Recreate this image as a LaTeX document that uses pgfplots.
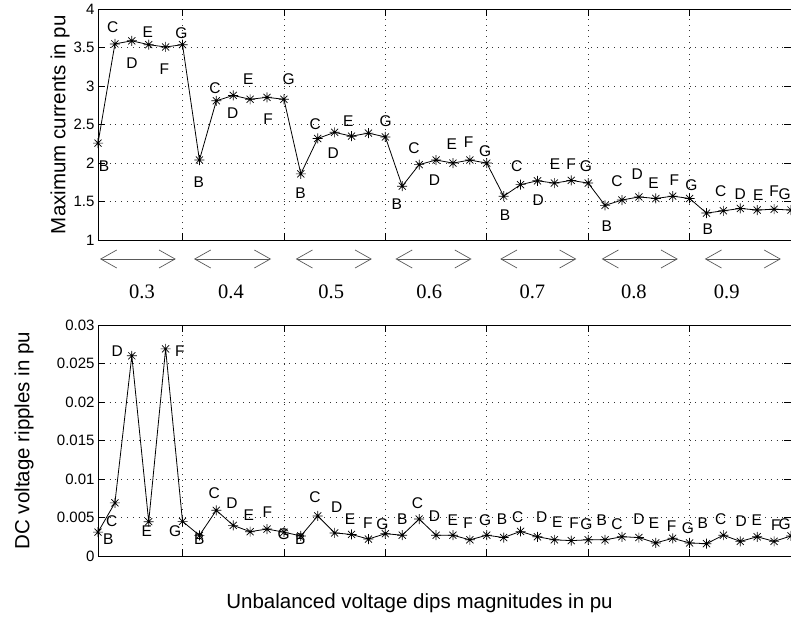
\documentclass[border=0pt]{standalone}
\usepackage{pgfplots}
\pgfplotsset{compat=1.18}
\usepackage{fontspec}
\setmainfont{Liberation Sans}
\newfontfamily\seriffont{Liberation Serif}
\usetikzlibrary{arrows.meta}

\pgfdeclareplotmark{mstar}{%
 \pgfpathmoveto{\pgfqpoint{-\pgfplotmarksize}{0pt}}\pgfpathlineto{\pgfqpoint{\pgfplotmarksize}{0pt}}%
 \pgfpathmoveto{\pgfqpoint{0pt}{-\pgfplotmarksize}}\pgfpathlineto{\pgfqpoint{0pt}{\pgfplotmarksize}}%
 \pgfpathmoveto{\pgfqpoint{-0.707\pgfplotmarksize}{-0.707\pgfplotmarksize}}\pgfpathlineto{\pgfqpoint{0.707\pgfplotmarksize}{0.707\pgfplotmarksize}}%
 \pgfpathmoveto{\pgfqpoint{-0.707\pgfplotmarksize}{0.707\pgfplotmarksize}}\pgfpathlineto{\pgfqpoint{0.707\pgfplotmarksize}{-0.707\pgfplotmarksize}}%
 \pgfusepathqstroke}

\newcommand{\lb}[3]{\node[font=\fontsize{15.5}{18}\selectfont, inner sep=0pt] at (axis cs:#1,#2) {#3};}
\newcommand{\grp}[4]{%
 \draw[black!65, line width=0.7pt, {Straight Barb[length=16pt,width=18pt]}-{Straight Barb[length=16pt,width=18pt]}] (axis cs:#1,0.753) -- (axis cs:#2,0.753);
 \node[font=\seriffont\fontsize{20.5}{24}\selectfont, inner sep=0pt] at (axis cs:#3,0.324) {#4};}

\pgfplotsset{mystyle/.style={
  scale only axis, width=693pt, xmin=1, xmax=42,
  xtick={6,12,18,24,30,36}, xticklabels={},
  grid=major, grid style={black!80, line width=0.7pt, dash pattern=on 0.8pt off 5pt},
  tick align=inside, tick pos=both, yticklabel pos=left,
  major tick length=7pt,
  axis line style={line width=0.9pt},
  every tick/.style={black, line width=0.8pt},
  tick label style={font=\fontsize{15}{18}\selectfont},
  label style={font=\fontsize{20.5}{24}\selectfont},
  clip=false}}

\begin{document}
\begin{tikzpicture}
\useasboundingbox (0,0) rectangle (791pt,-617pt);

\begin{axis}[mystyle, at={(98pt,-240pt)}, anchor=south west, height=230.7pt,
  ymin=1, ymax=4, ytick={1,1.5,2,2.5,3,3.5,4}, yticklabels={1,1.5,2,2.5,3,3.5,4},
  ylabel={Maximum currents in pu},
  ylabel style={at={(axis description cs:-0.0548,0.5)}, anchor=center}]
\addplot[black, line width=0.8pt, mark=mstar, mark size=5pt, mark options={line width=0.7pt}] coordinates {
(1,2.26) (2,3.55) (3,3.59) (4,3.54) (5,3.51) (6,3.54)
(7,2.04) (8,2.81) (9,2.88) (10,2.83) (11,2.855) (12,2.83)
(13,1.86) (14,2.32) (15,2.40) (16,2.35) (17,2.39) (18,2.34)
(19,1.70) (20,1.98) (21,2.04) (22,2.00) (23,2.04) (24,2.00)
(25,1.57) (26,1.72) (27,1.77) (28,1.74) (29,1.775) (30,1.74)
(31,1.45) (32,1.52) (33,1.56) (34,1.54) (35,1.57) (36,1.54)
(37,1.35) (38,1.38) (39,1.41) (40,1.39) (41,1.40) (42,1.39)};
\lb{1.36}{1.96}{B}\lb{1.87}{3.77}{C}\lb{3.01}{3.30}{D}\lb{3.94}{3.70}{E}\lb{4.92}{3.22}{F}\lb{5.94}{3.69}{G}
\lb{6.96}{1.75}{B}\lb{7.92}{2.98}{C}\lb{8.97}{2.65}{D}\lb{9.89}{3.09}{E}\lb{11.07}{2.57}{F}\lb{12.28}{3.09}{G}
\lb{12.99}{1.61}{B}\lb{13.85}{2.50}{C}\lb{14.92}{2.13}{D}\lb{15.81}{2.55}{E}\lb{18.02}{2.55}{G}
\lb{18.67}{1.47}{B}\lb{19.7}{2.20}{C}\lb{20.9}{1.78}{D}\lb{21.93}{2.24}{E}\lb{22.93}{2.27}{F}\lb{23.9}{2.16}{G}
\lb{25.08}{1.32}{B}\lb{25.77}{1.96}{C}\lb{27.05}{1.52}{D}\lb{28.04}{1.98}{E}\lb{28.99}{1.99}{F}\lb{29.86}{1.96}{G}
\lb{31.1}{1.18}{B}\lb{31.7}{1.77}{C}\lb{32.9}{1.85}{D}\lb{33.86}{1.74}{E}\lb{35.1}{1.78}{F}\lb{36.1}{1.71}{G}
\lb{37.08}{1.14}{B}\lb{37.84}{1.64}{C}\lb{39.0}{1.59}{D}\lb{40.07}{1.58}{E}\lb{41.0}{1.63}{F}\lb{41.62}{1.60}{G}
\grp{1.12}{5.6}{3.6}{0.3}
\grp{6.68}{11.24}{8.87}{0.4}
\grp{12.7}{17.2}{14.8}{0.5}
\grp{18.6}{23.1}{20.6}{0.6}
\grp{24.8}{29.3}{26.7}{0.7}
\grp{30.8}{35.3}{32.7}{0.8}
\grp{36.9}{41.4}{38.2}{0.9}
\end{axis}

\begin{axis}[mystyle, at={(98pt,-556pt)}, anchor=south west, height=231pt,
  ymin=0, ymax=0.03, ytick={0,0.005,0.01,0.015,0.02,0.025,0.03},
  yticklabels={0,0.005,0.01,0.015,0.02,0.025,0.03}, scaled y ticks=false,
  ylabel={DC voltage ripples in pu},
  ylabel style={at={(axis description cs:-0.1066,0.5)}, anchor=center},
  xlabel={Unbalanced voltage dips magnitudes in pu},
  xlabel style={at={(axis description cs:0.464,-0.2035)}, anchor=center}]
\addplot[black, line width=0.8pt, mark=mstar, mark size=5pt, mark options={line width=0.7pt}] coordinates {
(1,0.0031) (2,0.0069) (3,0.0260) (4,0.00446) (5,0.0269) (6,0.0045)
(7,0.00268) (8,0.00593) (9,0.00398) (10,0.00316) (11,0.0035) (12,0.0031)
(13,0.0026) (14,0.0052) (15,0.0030) (16,0.0028) (17,0.0022) (18,0.0029)
(19,0.0027) (20,0.0048) (21,0.0027) (22,0.0027) (23,0.0021) (24,0.0027)
(25,0.0024) (26,0.0032) (27,0.0025) (28,0.0021) (29,0.0020) (30,0.0021)
(31,0.0021) (32,0.0025) (33,0.0024) (34,0.0017) (35,0.0023) (36,0.0017)
(37,0.0016) (38,0.0027) (39,0.0019) (40,0.0025) (41,0.0019) (42,0.0026)};
\lb{1.61}{0.00217}{B}\lb{1.81}{0.00455}{C}\lb{2.14}{0.0266}{D}\lb{3.88}{0.0032}{E}\lb{5.85}{0.0266}{F}\lb{5.56}{0.0032}{G}
\lb{7.0}{0.00217}{B}\lb{7.88}{0.0082}{C}\lb{8.93}{0.0069}{D}\lb{9.92}{0.0053}{E}\lb{11.02}{0.0057}{F}\lb{11.99}{0.0029}{G}
\lb{12.97}{0.00217}{B}\lb{13.84}{0.0076}{C}\lb{15.12}{0.0063}{D}\lb{15.91}{0.0048}{E}\lb{16.96}{0.0042}{F}\lb{17.82}{0.0042}{G}
\lb{19.0}{0.0048}{B}\lb{19.9}{0.0068}{C}\lb{20.9}{0.0052}{D}\lb{21.99}{0.0047}{E}\lb{22.9}{0.0042}{F}\lb{23.9}{0.0046}{G}
\lb{24.9}{0.0048}{B}\lb{25.83}{0.0051}{C}\lb{27.25}{0.0051}{D}\lb{28.18}{0.0044}{E}\lb{29.17}{0.0042}{F}\lb{29.9}{0.0042}{G}
\lb{30.8}{0.0046}{B}\lb{31.7}{0.0042}{C}\lb{33.0}{0.0048}{D}\lb{33.9}{0.0042}{E}\lb{34.94}{0.0039}{F}\lb{35.9}{0.0036}{G}
\lb{36.78}{0.0042}{B}\lb{37.84}{0.0048}{C}\lb{39.05}{0.0045}{D}\lb{39.97}{0.0047}{E}\lb{41.1}{0.0040}{F}\lb{41.62}{0.0042}{G}
\end{axis}
\end{tikzpicture}
\end{document}
